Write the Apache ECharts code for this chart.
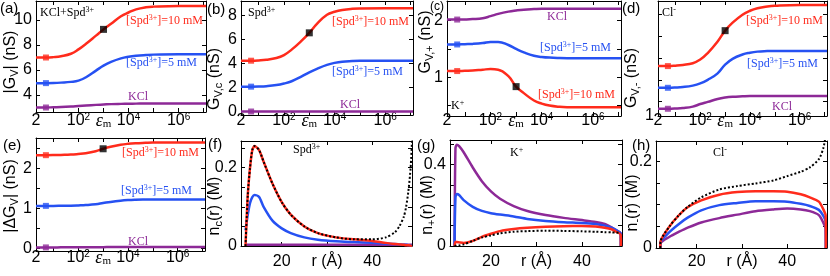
<!DOCTYPE html>
<html><head><meta charset="utf-8">
<script src="https://cdn.jsdelivr.net/npm/echarts@6.0.0/dist/echarts.min.js"></script>
<style>html,body{margin:0;padding:0;background:#fff;}#chart{width:830px;height:276px;}</style>
</head><body><div id="chart"></div>
<script>
// ---------------- data ----------------
const eps = [2, 5, 10, 20, 50, 100, 200, 500, 1000, 2000, 5000, 1e4, 2e4, 5e4, 1e5, 1e6, 1.25e7];
// (a) |G_V|
const aRed    = [7.0, 7.0, 7.03, 7.1, 7.3, 7.65, 8.1, 8.75, 9.25, 9.7, 10.3, 10.6, 10.85, 11.02, 11.07, 11.12, 11.12];
const aBlue   = [4.95, 4.95, 4.96, 4.99, 5.05, 5.15, 5.42, 5.95, 6.35, 6.65, 6.93, 7.06, 7.14, 7.2, 7.23, 7.27, 7.27];
const aPurple = [3.0, 3.0, 3.02, 3.04, 3.08, 3.12, 3.16, 3.21, 3.24, 3.27, 3.29, 3.3, 3.31, 3.32, 3.32, 3.32, 3.32];
// (b) G_V,c
const bRed    = [4.23, 4.23, 4.25, 4.3, 4.45, 4.7, 5.15, 5.9, 6.55, 7.3, 8.05, 8.3, 8.45, 8.55, 8.58, 8.6, 8.6];
const bBlue   = [2.07, 2.07, 2.08, 2.11, 2.2, 2.33, 2.52, 2.92, 3.26, 3.55, 3.88, 4.05, 4.15, 4.2, 4.22, 4.23, 4.23];
const bPurple = [0, 0, 0, 0, 0, 0, 0, 0, 0, 0, 0, 0, 0, 0, 0, 0, 0];
// (c) G_V,+
const cRed    = [1.11, 1.11, 1.115, 1.12, 1.135, 1.145, 1.135, 1.02, 0.835, 0.72, 0.59, 0.535, 0.5, 0.478, 0.472, 0.47, 0.47];
const cBlue   = [1.58, 1.58, 1.585, 1.59, 1.605, 1.625, 1.625, 1.57, 1.5, 1.44, 1.38, 1.36, 1.348, 1.34, 1.337, 1.335, 1.335];
const cPurple = [2.02, 2.02, 2.022, 2.028, 2.045, 2.08, 2.12, 2.16, 2.18, 2.195, 2.205, 2.21, 2.21, 2.21, 2.21, 2.21, 2.21];
// (d) G_V,-
const dRed    = [1.69, 1.69, 1.695, 1.705, 1.73, 1.78, 1.87, 2.03, 2.18, 2.29, 2.4, 2.455, 2.49, 2.515, 2.525, 2.535, 2.535];
const dBlue   = [1.39, 1.39, 1.393, 1.4, 1.42, 1.45, 1.5, 1.59, 1.71, 1.79, 1.85, 1.875, 1.89, 1.897, 1.9, 1.9, 1.9];
const dPurple = [1.1, 1.1, 1.103, 1.11, 1.13, 1.165, 1.195, 1.235, 1.255, 1.266, 1.272, 1.275, 1.275, 1.275, 1.275, 1.275, 1.275];
// (e) |dG_V|
const eRed    = [2.33, 2.33, 2.332, 2.337, 2.345, 2.36, 2.38, 2.43, 2.49, 2.54, 2.59, 2.615, 2.63, 2.64, 2.645, 2.645, 2.645];
const eBlue   = [1.06, 1.06, 1.06, 1.062, 1.066, 1.072, 1.08, 1.1, 1.13, 1.16, 1.19, 1.205, 1.213, 1.218, 1.22, 1.22, 1.22];
const ePurple = [0.02, 0.02, 0.02, 0.021, 0.022, 0.023, 0.025, 0.026, 0.027, 0.028, 0.029, 0.03, 0.03, 0.03, 0.03, 0.03, 0.03];
// (f) n_c(r)
const rF      = [12, 12.5, 13, 13.5, 14, 15, 16, 18, 20, 22, 25, 28, 32, 36, 40, 43, 45, 46, 47, 47.5, 48, 48.5, 48.8];
const fRed    = [0, 0.13, 0.2, 0.245, 0.255, 0.245, 0.215, 0.158, 0.112, 0.08, 0.05, 0.033, 0.022, 0.017, 0.013, 0.008, 0.005, 0.004, 0.003, 0.002, 0.002, 0.001, 0];
const fBlack  = [0, 0.13, 0.2, 0.245, 0.255, 0.245, 0.215, 0.158, 0.112, 0.08, 0.05, 0.033, 0.022, 0.017, 0.017, 0.022, 0.035, 0.05, 0.075, 0.1, 0.14, 0.2, 0.27];
const fBlue   = [0.04, 0.08, 0.11, 0.125, 0.13, 0.125, 0.1, 0.064, 0.045, 0.033, 0.022, 0.016, 0.012, 0.01, 0.008, 0.006, 0.005, 0.004, 0.003, 0.003, 0.002, 0.002, 0.002];
const fPurple = [0.003, 0.003, 0.003, 0.003, 0.003, 0.003, 0.003, 0.003, 0.003, 0.003, 0.003, 0.003, 0.003, 0.003, 0.003, 0.003, 0.003, 0.003, 0.003, 0.003, 0.003, 0.003, 0.003];
// (g) n_+(r)
const rG      = [12, 12.2, 12.5, 13, 14, 16, 18, 20, 22, 25, 28, 32, 36, 40, 43, 45, 46.5, 47.5, 48.5, 48.55];
const gPurple = [0, 0.48, 0.497, 0.49, 0.46, 0.385, 0.318, 0.268, 0.232, 0.196, 0.172, 0.152, 0.138, 0.127, 0.118, 0.108, 0.092, 0.078, 0.062, 0];
const gBlue   = [0, 0.24, 0.255, 0.25, 0.225, 0.192, 0.172, 0.161, 0.154, 0.145, 0.133, 0.123, 0.117, 0.113, 0.108, 0.1, 0.09, 0.078, 0.062, 0];
const gRed    = [0, 0.02, 0.02, 0.018, 0.015, 0.025, 0.045, 0.06, 0.073, 0.083, 0.089, 0.094, 0.097, 0.098, 0.096, 0.09, 0.082, 0.07, 0.056, 0];
const gBlack  = [0, 0.001, 0.002, 0.003, 0.008, 0.025, 0.042, 0.052, 0.062, 0.07, 0.073, 0.075, 0.074, 0.072, 0.07, 0.068, 0.067, 0.066, 0.065, 0.065];
// (h) n_-(r)
const rH      = [11.95, 12, 14, 16, 18, 21, 25, 29, 33, 37, 40, 43, 45, 47, 48, 48.5, 48.55];
const hBlack  = [0, 0.015, 0.05, 0.075, 0.095, 0.117, 0.135, 0.143, 0.149, 0.156, 0.166, 0.176, 0.186, 0.205, 0.231, 0.26, 0.27];
const hRed    = [0, 0.015, 0.05, 0.075, 0.094, 0.11, 0.123, 0.129, 0.131, 0.131, 0.13, 0.124, 0.117, 0.107, 0.089, 0.075, 0];
const hBlue   = [0, 0.013, 0.037, 0.055, 0.07, 0.087, 0.099, 0.104, 0.108, 0.108, 0.107, 0.102, 0.097, 0.088, 0.074, 0.06, 0];
const hPurple = [0, 0.011, 0.026, 0.037, 0.047, 0.059, 0.069, 0.077, 0.085, 0.089, 0.091, 0.089, 0.085, 0.076, 0.058, 0.045, 0];

// tick labels
const epsTickVals = [2, 100, 1000, 1e4, 1e6];
const epsTickText = ['{n|2}', '{n|10}{sup|2}', '{e|ε}{sub|m}', '{n|10}{sup|4}', '{n|10}{sup|6}'];
const rTickVals = [20, 30, 40];
const rTickText = ['{n|20}', '{n|r (Å)}', '{n|40}'];
const yTicksA = [4, 6, 8, 10];
const yTicksB = [0, 2, 4, 6, 8];
const yTicksC = [1, 2];
const yTicksD = [1, 2];
const yTicksE = [0, 1, 2];
const yTicksF = [0, 0.2];
const yTicksG = [0, 0.4];
const yTicksH = [0, 0.2];

// ---------------- styling ----------------
const SANS = '"Liberation Sans", Arial, sans-serif';
const SERIF = '"Liberation Serif", "Times New Roman", serif';
const RED = '#ff2b1c', BLUE = '#2651f2', PURPLE = '#8d2997', BLACK = '#000000';
const MARK_IDX = 1, BLACK_IDX = 8;

const richAxis = {
  n:   {fontFamily: SANS, fontSize: 16, lineHeight: 18, color: '#000'},
  sup: {fontFamily: SANS, fontSize: 10, lineHeight: 6, verticalAlign: 'top', color: '#000'},
  e:   {fontFamily: SERIF, fontStyle: 'italic', fontSize: 18, lineHeight: 18, color: '#000'},
  sub: {fontFamily: SERIF, fontSize: 11, lineHeight: 4, verticalAlign: 'bottom', color: '#000'}
};

const panels = [
  {grid: {left: 36, top: 1, width: 170, height: 111}, xlog: true, ymin: 2.64, ymax: 11.52, yt: yTicksA, lblY: 121,
   curves: [[eps, aPurple, PURPLE], [eps, aBlue, BLUE], [eps, aRed, RED]]},
  {grid: {left: 241, top: 1, width: 172, height: 114}, xlog: true, ymin: -0.29, ymax: 9.2, yt: yTicksB, lblY: 121,
   curves: [[eps, bPurple, PURPLE], [eps, bBlue, BLUE], [eps, bRed, RED]]},
  {grid: {left: 447, top: 1, width: 174, height: 115}, xlog: true, ymin: 0.316, ymax: 2.348, yt: yTicksC, lblY: 121,
   curves: [[eps, cPurple, PURPLE], [eps, cBlue, BLUE], [eps, cRed, RED]]},
  {grid: {left: 658, top: 1, width: 170, height: 115}, xlog: true, ymin: 1.0, ymax: 2.59, yt: yTicksD, lblY: 121,
   curves: [[eps, dPurple, PURPLE], [eps, dBlue, BLUE], [eps, dRed, RED]]},
  {grid: {left: 36, top: 138, width: 169, height: 113}, xlog: true, ymin: -0.07, ymax: 2.76, yt: yTicksE, lblY: 258,
   curves: [[eps, ePurple, PURPLE], [eps, eBlue, BLUE], [eps, eRed, RED]]},
  {grid: {left: 241, top: 141, width: 171, height: 105}, xlog: false, ymin: 0, ymax: 0.268, yt: yTicksF, lblY: 262,
   curves: [[rF, fPurple, PURPLE], [rF, fBlue, BLUE], [rF, fRed, RED], [rF, fBlack, BLACK, true]]},
  {grid: {left: 450, top: 140, width: 172, height: 106}, xlog: false, ymin: 0, ymax: 0.52, yt: yTicksG, lblY: 262,
   curves: [[rG, gPurple, PURPLE], [rG, gBlue, BLUE], [rG, gRed, RED], [rG, gBlack, BLACK, true]]},
  {grid: {left: 656, top: 141, width: 172, height: 107}, xlog: false, ymin: 0, ymax: 0.247, yt: yTicksH, lblY: 262,
   curves: [[rH, hPurple, PURPLE], [rH, hBlue, BLUE], [rH, hRed, RED], [rH, hBlack, BLACK, true]]}
];

function near(v, t) { return Math.abs(v - t) <= 1e-6 * Math.max(1, Math.abs(t)); }

const grids = [], xAxes = [], yAxes = [], series = [];
const axLine = {show: true, onZero: false, lineStyle: {color: '#000', width: 1}};
const axTick = {show: true, inside: true, length: 4, lineStyle: {color: '#000', width: 1}};

panels.forEach((p, gi) => {
  grids.push(Object.assign({containLabel: false}, p.grid));
  const bottom = p.grid.top + p.grid.height;
  const xBase = p.xlog
    ? {type: 'log', logBase: 10, min: 2, max: 1.25e7, splitNumber: 7}
    : {type: 'value', min: 11, max: 48.8};
  const xFmt = p.xlog
    ? (v) => { for (let i = 0; i < epsTickVals.length; i++) { if (Math.abs(v / epsTickVals[i] - 1) < 1e-4) return epsTickText[i]; } return ''; }
    : (v) => { for (let i = 0; i < rTickVals.length; i++) { if (near(v, rTickVals[i])) return rTickText[i]; } return ''; };
  xAxes.push(Object.assign({}, xBase, {
    gridIndex: gi, position: 'bottom', axisLine: axLine, axisTick: axTick, splitLine: {show: false},
    axisLabel: {show: true, formatter: xFmt, rich: richAxis, margin: p.lblY - bottom - 9, showMinLabel: true, showMaxLabel: true, hideOverlap: false}
  }));
  xAxes.push(Object.assign({}, xBase, {
    gridIndex: gi, position: 'top', axisLine: axLine, axisTick: axTick, splitLine: {show: false}, axisLabel: {show: false}
  }));
  const yFmt = (v) => { for (let i = 0; i < p.yt.length; i++) { if (near(v, p.yt[i])) return '{n|' + p.yt[i] + '}'; } return ''; };
  yAxes.push({type: 'value', gridIndex: gi, position: 'left', min: p.ymin, max: p.ymax, axisLine: axLine, axisTick: axTick,
    splitLine: {show: false}, axisLabel: {formatter: yFmt, rich: richAxis, margin: 4, showMinLabel: true, showMaxLabel: true}});
  yAxes.push({type: 'value', gridIndex: gi, position: 'right', min: p.ymin, max: p.ymax, axisLine: axLine, axisTick: axTick,
    splitLine: {show: false}, axisLabel: {show: false}});
  p.curves.forEach(c => {
    const [xs, ys, color, dotted] = c;
    series.push({
      type: 'line', xAxisIndex: 2 * gi, yAxisIndex: 2 * gi,
      data: xs.map((x, i) => [x, ys[i]]),
      smooth: p.xlog ? 0.45 : 0.25, showSymbol: false, symbol: 'none',
      lineStyle: {color: color, width: dotted ? 2 : 2.5, type: dotted ? [2, 2] : 'solid'},
      z: dotted ? 4 : 3, silent: true, clip: true
    });
    if (p.xlog) {
      series.push({type: 'scatter', xAxisIndex: 2 * gi, yAxisIndex: 2 * gi, data: [[xs[MARK_IDX], ys[MARK_IDX]]],
        symbol: 'rect', symbolSize: 6, itemStyle: {color: color}, z: 5, silent: true});
      if (color === RED) {
        series.push({type: 'scatter', xAxisIndex: 2 * gi, yAxisIndex: 2 * gi, data: [[xs[BLACK_IDX], ys[BLACK_IDX]]],
          symbol: 'rect', symbolSize: 7, itemStyle: {color: '#000'}, z: 6, silent: true});
      }
    }
  });
});

// ---------------- text graphics ----------------
const richName = {
  n:   {fontFamily: SANS, fontSize: 16, lineHeight: 18, fill: '#000'},
  sub: {fontFamily: SANS, fontSize: 11, lineHeight: 8, verticalAlign: 'bottom', fill: '#000'}
};
const richNote = (col) => ({
  t:   {fontFamily: SERIF, fontSize: 12, lineHeight: 14, fill: col},
  sup: {fontFamily: SERIF, fontSize: 8, lineHeight: 6, verticalAlign: 'top', fill: col}
});
const gfx = [];
function label(x, y, t, size) {
  gfx.push({type: 'text', x: x, y: y, silent: true,
    style: {text: t, fontFamily: SANS, fontSize: size || 15, fill: '#000', align: 'left', verticalAlign: 'middle'}});
}
function yname(x, y, t) {
  gfx.push({type: 'text', x: x, y: y, rotation: Math.PI / 2, silent: true,
    style: {text: t, rich: richName, align: 'center', verticalAlign: 'middle', fill: '#000'}});
}
function note(x, y, t, col) {
  gfx.push({type: 'text', x: x, y: y, silent: true,
    style: {text: t, rich: richNote(col), align: 'left', verticalAlign: 'middle', fill: col}});
}
label(0, 9, '(a)'); label(207, 10, '(b)'); label(430, 7, '(c)', 12); label(622, 9, '(d)');
label(3, 146, '(e)'); label(208, 145, '(f)'); label(417, 146, '(g)'); label(632, 146, '(h)');

yname(11, 62, '{n||G}{sub|V}{n|| (nS)}');
yname(215, 79, '{n|G}{sub|V,c}{n| (nS)}');
yname(426, 42, '{n|G}{sub|V,+}{n| (nS)}');
yname(632, 78, '{n|G}{sub|V,-}{n| (nS)}');
yname(11, 196, '{n||ΔG}{sub|V}{n|| (nS)}');
yname(215, 206, '{n|n}{sub|c}{n|(r) (M)}');
yname(428, 205, '{n|n}{sub|+}{n|(r) (M)}');
yname(633, 203, '{n|n}{sub|-}{n|(r) (M)}');

const S10 = '{t|[Spd}{sup|3+}{t|]=10 mM}';
const S5 = '{t|[Spd}{sup|3+}{t|]=5 mM}';
note(40, 13, '{t|KCl+Spd}{sup|3+}', BLACK);
note(126, 21, S10, RED); note(126, 63, S5, BLUE); note(128, 97, '{t|KCl}', PURPLE);
note(248, 13, '{t|Spd}{sup|3+}', BLACK);
note(332, 22, S10, RED); note(332, 72, S5, BLUE); note(340, 105, '{t|KCl}', PURPLE);
note(547, 17, '{t|KCl}', PURPLE); note(540, 48, S5, BLUE); note(538, 95, S10, RED);
note(451, 106, '{t|K}{sup|+}', BLACK);
note(662, 13, '{t|Cl}{sup|-}', BLACK);
note(746, 21, S10, RED); note(747, 64, S5, BLUE); note(772, 107, '{t|KCl}', PURPLE);
note(122, 153, S10, RED); note(121, 191, S5, BLUE); note(128, 242, '{t|KCl}', PURPLE);
note(293, 150, '{t|Spd}{sup|3+}', BLACK);
note(510, 153, '{t|K}{sup|+}', BLACK);
note(713, 153, '{t|Cl}{sup|-}', BLACK);

const chart = echarts.init(document.getElementById('chart'), null, {renderer: 'canvas'});
chart.setOption({
  animation: false,
  backgroundColor: '#fff',
  grid: grids, xAxis: xAxes, yAxis: yAxes, series: series, graphic: gfx
});
</script>
</body></html>
